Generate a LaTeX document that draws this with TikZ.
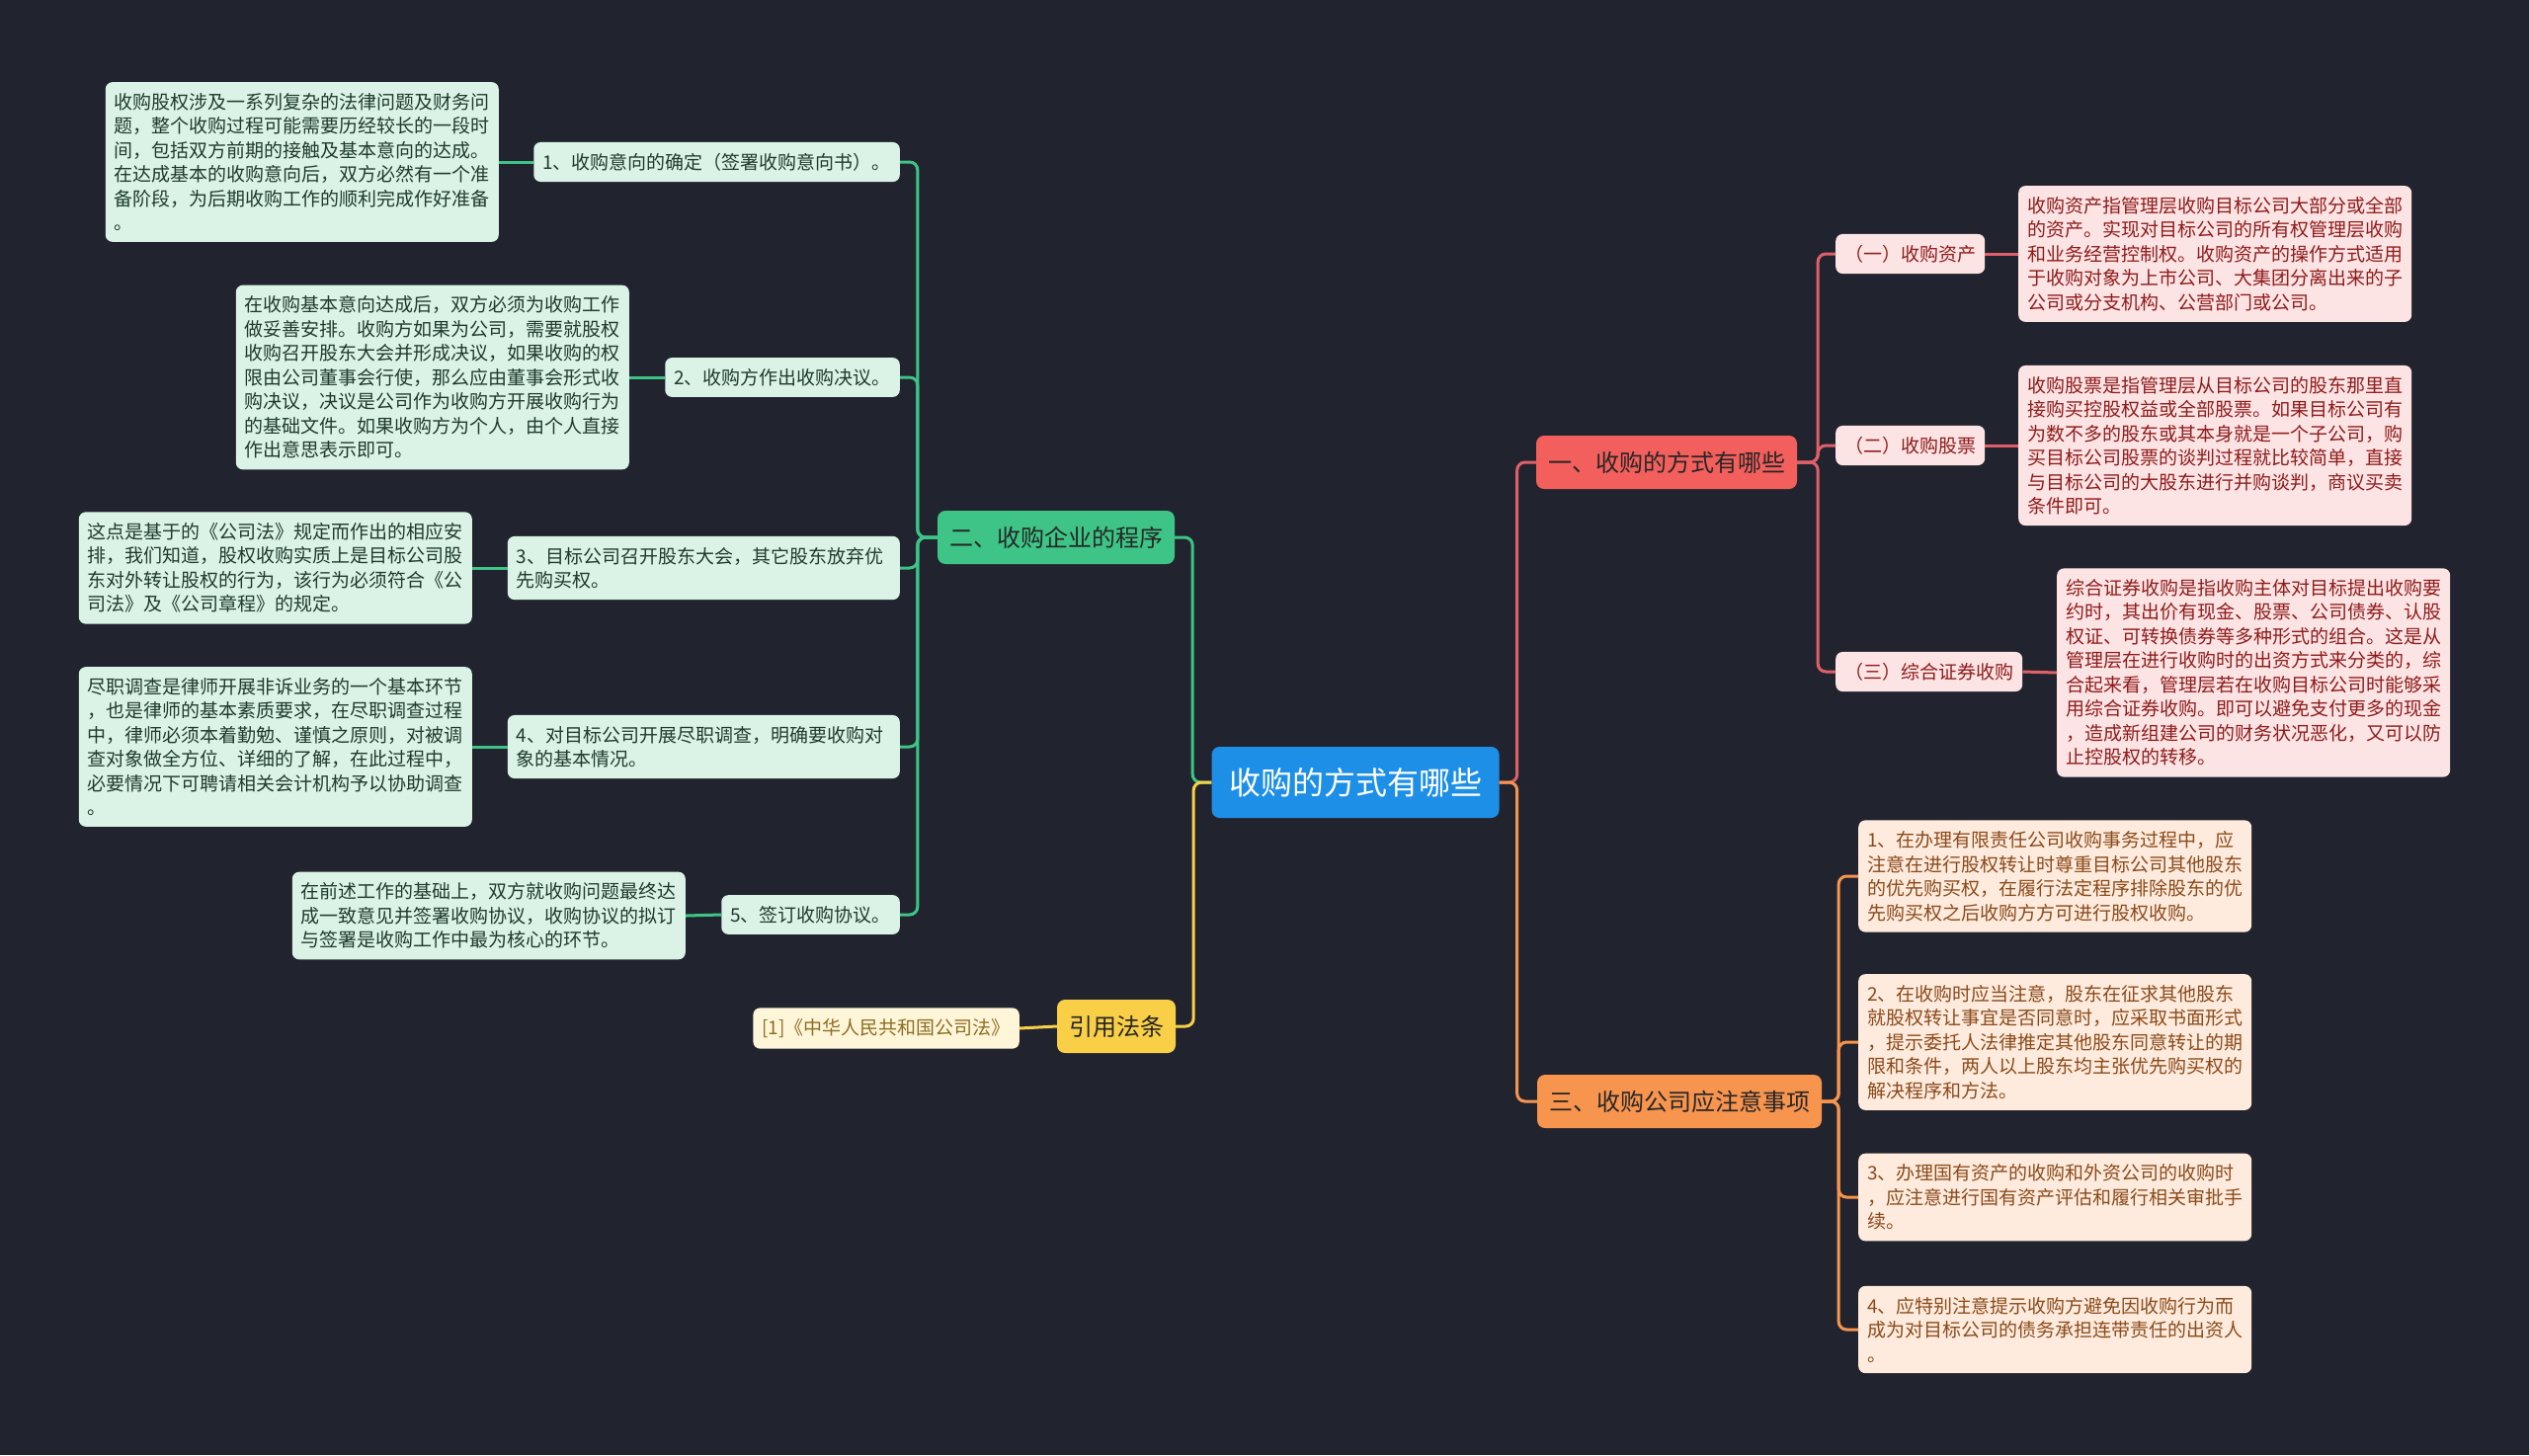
\documentclass[tikz,border=0pt]{standalone}
\usepackage{fontspec}
\setmainfont{Noto Sans CJK SC}
\usetikzlibrary{positioning}
\definecolor{bgc}{HTML}{21242E}
\definecolor{rootc}{HTML}{1E8FE6}
\definecolor{gmain}{HTML}{3DC486}
\definecolor{gfill}{HTML}{DAF3E6}
\definecolor{gtext}{HTML}{1F3A2D}
\definecolor{rmain}{HTML}{F25F5C}
\definecolor{rline}{HTML}{E0606A}
\definecolor{rfill}{HTML}{FDE4E4}
\definecolor{rtext}{HTML}{8E1B1B}
\definecolor{omain}{HTML}{F7954F}
\definecolor{ofill}{HTML}{FEEBDD}
\definecolor{otext}{HTML}{8A4A1A}
\definecolor{ymain}{HTML}{F8CF47}
\definecolor{yfill}{HTML}{FFF6DA}
\definecolor{ytext}{HTML}{8C6D1F}
\tikzset{
  box/.style={rounded corners=7pt, inner xsep=9pt, inner ysep=11pt, align=left, font=\fontsize{19}{24.5}\selectfont},
  branch/.style={rounded corners=8pt, inner xsep=12pt, minimum height=54pt, font=\fontsize{24}{28}\selectfont, text=black!85},
  gbox/.style={box, fill=gfill, text=gtext},
  rbox/.style={box, fill=rfill, text=rtext},
  obox/.style={box, fill=ofill, text=otext},
  ybox/.style={box, fill=yfill, text=ytext},
  conn/.style={line width=3pt, rounded corners=8pt}
}
\begin{document}
\begin{tikzpicture}[x=1pt,y=-1pt]
\fill[bgc] (0,0) rectangle (2560,1473);
\useasboundingbox (0,0) rectangle (2560,1473);

\node[fill=rootc, text=white, rounded corners=8pt, minimum width=291pt, minimum height=72pt, font=\fontsize{32}{36}\selectfont] (root) at (1372,792) {收购的方式有哪些};

\node[branch, fill=rmain] (b1) at (1687,468) {一、收购的方式有哪些};
\node[branch, fill=gmain] (b2) at (1069,544) {二、收购企业的程序};
\node[branch, fill=omain] (b3) at (1700,1115) {三、收购公司应注意事项};
\node[branch, fill=ymain] (b4) at (1130,1039) {引用法条};

\node[gbox, anchor=east] (s1) at (911,164) {1、收购意向的确定（签署收购意向书）。};
\node[gbox, anchor=east] (s2) at (911,382) {2、收购方作出收购决议。};
\node[gbox, anchor=east, text width=379pt] (s3) at (911,575) {3、目标公司召开股东大会，其它股东放弃优\\先购买权。};
\node[gbox, anchor=east, text width=379pt] (s4) at (911,756) {4、对目标公司开展尽职调查，明确要收购对\\象的基本情况。};
\node[gbox, anchor=east] (s5) at (911,926) {5、签订收购协议。};

\node[gbox, anchor=east] (l1) at (505,164) {收购股权涉及一系列复杂的法律问题及财务问\\题，整个收购过程可能需要历经较长的一段时\\间，包括双方前期的接触及基本意向的达成。\\在达成基本的收购意向后，双方必然有一个准\\备阶段，为后期收购工作的顺利完成作好准备\\。};
\node[gbox, anchor=east] (l2) at (637,382) {在收购基本意向达成后，双方必须为收购工作\\做妥善安排。收购方如果为公司，需要就股权\\收购召开股东大会并形成决议，如果收购的权\\限由公司董事会行使，那么应由董事会形式收\\购决议，决议是公司作为收购方开展收购行为\\的基础文件。如果收购方为个人，由个人直接\\作出意思表示即可。};
\node[gbox, anchor=east] (l3) at (478,575) {这点是基于的《公司法》规定而作出的相应安\\排，我们知道，股权收购实质上是目标公司股\\东对外转让股权的行为，该行为必须符合《公\\司法》及《公司章程》的规定。};
\node[gbox, anchor=east] (l4) at (478,756) {尽职调查是律师开展非诉业务的一个基本环节\\，也是律师的基本素质要求，在尽职调查过程\\中，律师必须本着勤勉、谨慎之原则，对被调\\查对象做全方位、详细的了解，在此过程中，\\必要情况下可聘请相关会计机构予以协助调查\\。};
\node[gbox, anchor=east] (l5) at (694,927) {在前述工作的基础上，双方就收购问题最终达\\成一致意见并签署收购协议，收购协议的拟订\\与签署是收购工作中最为核心的环节。};
\node[ybox, anchor=east] (l6) at (1032,1041) {[1]《中华人民共和国公司法》};

\node[rbox, anchor=west] (r1) at (1858,257) {（一）收购资产};
\node[rbox, anchor=west] (r2) at (1858,451) {（二）收购股票};
\node[rbox, anchor=west] (r3) at (1858,680) {（三）综合证券收购};
\node[rbox, anchor=west] (rl1) at (2043,257) {收购资产指管理层收购目标公司大部分或全部\\的资产。实现对目标公司的所有权管理层收购\\和业务经营控制权。收购资产的操作方式适用\\于收购对象为上市公司、大集团分离出来的子\\公司或分支机构、公营部门或公司。};
\node[rbox, anchor=west] (rl2) at (2043,451) {收购股票是指管理层从目标公司的股东那里直\\接购买控股权益或全部股票。如果目标公司有\\为数不多的股东或其本身就是一个子公司，购\\买目标公司股票的谈判过程就比较简单，直接\\与目标公司的大股东进行并购谈判，商议买卖\\条件即可。};
\node[rbox, anchor=west] (rl3) at (2082,681) {综合证券收购是指收购主体对目标提出收购要\\约时，其出价有现金、股票、公司债券、认股\\权证、可转换债券等多种形式的组合。这是从\\管理层在进行收购时的出资方式来分类的，综\\合起来看，管理层若在收购目标公司时能够采\\用综合证券收购。即可以避免支付更多的现金\\，造成新组建公司的财务状况恶化，又可以防\\止控股权的转移。};

\node[obox, anchor=west] (o1) at (1881,887) {1、在办理有限责任公司收购事务过程中，应\\注意在进行股权转让时尊重目标公司其他股东\\的优先购买权，在履行法定程序排除股东的优\\先购买权之后收购方方可进行股权收购。};
\node[obox, anchor=west] (o2) at (1881,1055) {2、在收购时应当注意，股东在征求其他股东\\就股权转让事宜是否同意时，应采取书面形式\\，提示委托人法律推定其他股东同意转让的期\\限和条件，两人以上股东均主张优先购买权的\\解决程序和方法。};
\node[obox, anchor=west] (o3) at (1881,1212) {3、办理国有资产的收购和外资公司的收购时\\，应注意进行国有资产评估和履行相关审批手\\续。};
\node[obox, anchor=west] (o4) at (1881,1346) {4、应特别注意提示收购方避免因收购行为而\\成为对目标公司的债务承担连带责任的出资人\\。};

\draw[conn, rline] (root.east) -- ++(18,0) |- (b1.west);
\draw[conn, omain] (root.east) -- ++(18,0) |- (b3.west);
\draw[conn, gmain] (b2.east) -- ++(18,0) |- (root.west);
\draw[conn, ymain] (b4.east) -- ++(18,0) |- (root.west);

\foreach \s in {s1,s2,s3,s4,s5}
  \draw[conn, gmain] (b2.west) -- ++(-20,0) |- (\s.east);
\foreach \s/\l in {s1/l1,s2/l2,s3/l3,s4/l4,s5/l5}
  \draw[conn, gmain] (\s.west) -- (\l.east);
\draw[conn, ymain] (b4.west) -- (l6.east);

\foreach \s in {r1,r2,r3}
  \draw[conn, rline] (b1.east) -- ++(21,0) |- (\s.west);
\foreach \s/\l in {r1/rl1,r2/rl2,r3/rl3}
  \draw[conn, rline] (\s.east) -- (\l.west);
\foreach \s in {o1,o2,o3,o4}
  \draw[conn, omain] (b3.east) -- ++(17,0) |- (\s.west);
\end{tikzpicture}
\end{document}
